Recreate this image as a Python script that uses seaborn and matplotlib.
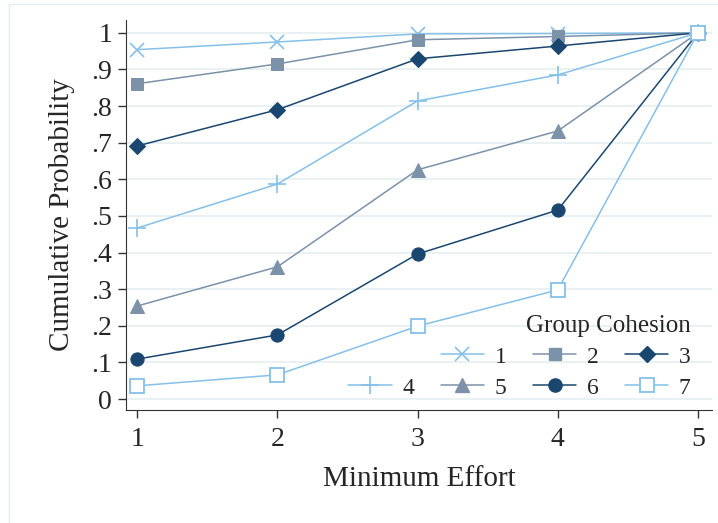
import matplotlib
matplotlib.use("Agg")
import matplotlib.pyplot as plt
import pandas as pd
import seaborn as sns
from matplotlib.lines import Line2D
from matplotlib.patches import Rectangle

effort = [1, 2, 3, 4, 5]
groups = ["1", "2", "3", "4", "5", "6", "7"]
prob_1 = [0.954, 0.975, 0.997, 0.998, 1.0]
prob_2 = [0.861, 0.915, 0.981, 0.990, 1.0]
prob_3 = [0.691, 0.790, 0.929, 0.964, 1.0]
prob_4 = [0.467, 0.587, 0.814, 0.885, 1.0]
prob_5 = [0.254, 0.361, 0.626, 0.732, 1.0]
prob_6 = [0.109, 0.175, 0.396, 0.516, 1.0]
prob_7 = [0.036, 0.066, 0.199, 0.298, 1.0]
y_ticks = [0, 0.1, 0.2, 0.3, 0.4, 0.5, 0.6, 0.7, 0.8, 0.9, 1.0]
y_tick_labels = ["0", ".1", ".2", ".3", ".4", ".5", ".6", ".7", ".8", ".9", "1"]

series = [prob_1, prob_2, prob_3, prob_4, prob_5, prob_6, prob_7]
df = pd.DataFrame(
    [(g, x, y) for g, vals in zip(groups, series) for x, y in zip(effort, vals)],
    columns=["group", "effort", "prob"],
)

LIGHT = "#84c0e8"
SLATE = "#7b92a9"
NAVY = "#1a476f"
styles = {
    "1": dict(color=LIGHT, marker="x", markersize=10, mew=1.2),
    "2": dict(color=SLATE, marker="s", markersize=9),
    "3": dict(color=NAVY, marker="D", markersize=8.5),
    "4": dict(color=LIGHT, marker="+", markersize=13, mew=1.2),
    "5": dict(color=SLATE, marker="^", markersize=9.5),
    "6": dict(color=NAVY, marker="o", markersize=9.5),
    "7": dict(color=LIGHT, marker="s", markersize=9.5, mfc="white", mew=1.3),
}

sns.set_style("ticks")
plt.rcParams["font.family"] = ["Liberation Serif", "DejaVu Serif"]

fig = plt.figure(figsize=(7.18, 5.23), dpi=100)
ax = fig.add_axes([126 / 718, 113 / 523, 586 / 718, 390 / 523])

handles = {}
for g in groups:
    st = dict(styles[g])
    sub = df[df["group"] == g]
    sns.lineplot(data=sub, x="effort", y="prob", ax=ax, lw=1.1, mec=st["color"], **st)
    handles[g] = Line2D([], [], lw=1.1, mec=st["color"], **st)

ax.set_xlim(0.92, 5.1)
ax.set_ylim(-0.03, 1.035)
ax.set_xticks(effort)
ax.set_yticks(y_ticks)
ax.set_yticklabels(y_tick_labels)
ax.tick_params(labelsize=20, length=6, width=1, color="#333333", pad=4)
ax.tick_params(axis="x", pad=6)
ax.grid(axis="y", color="#e8f0f2", lw=1.3)
ax.set_axisbelow(True)
for side in ["top", "right"]:
    ax.spines[side].set_visible(False)
for side in ["left", "bottom"]:
    ax.spines[side].set_color("#333333")
ax.set_xlabel("Minimum Effort", fontsize=21, labelpad=10)
ax.set_ylabel("Cumulative Probability", fontsize=21, labelpad=12)

blank = Line2D([], [], color="none")
order = [blank, handles["4"], handles["1"], handles["5"], handles["2"], handles["6"], handles["3"], handles["7"]]
labels = ["", "4", "1", "5", "2", "6", "3", "7"]
leg = ax.legend(order, labels, ncol=4, title="Group Cohesion", frameon=False,
                fontsize=17, title_fontsize=18, loc="lower right", bbox_to_anchor=(1.0, -0.025),
                handlelength=1.85, columnspacing=1.1, handletextpad=0.45, labelspacing=0.4,
                alignment="right")

fig.patches.append(Rectangle((9 / 718, -0.1), 1.2, 1.1 - 4 / 523, transform=fig.transFigure,
                             fill=False, edgecolor="#e4ecf0", lw=1))

fig.savefig("out.png", dpi=100)
